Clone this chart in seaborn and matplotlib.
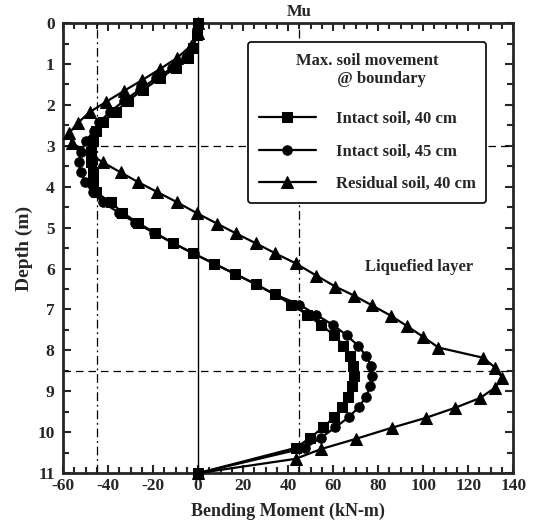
import numpy as np
import pandas as pd
import seaborn as sns
import matplotlib
matplotlib.use("Agg")
import matplotlib.pyplot as plt
from matplotlib.ticker import MultipleLocator


# =========================
# data
# =========================

depth_intact = [0, 0.29, 0.6, 0.85, 1.1, 1.34, 1.63, 1.9, 2.17, 2.42, 2.64, 2.88,
                3.15, 3.4, 3.64, 3.89, 4.13, 4.38, 4.63, 4.88, 5.13, 5.38, 5.63,
                5.88, 6.13, 6.38, 6.63, 6.88, 7.13, 7.38, 7.63, 7.88, 8.13, 8.38,
                8.63, 8.88, 9.13, 9.38, 9.63, 9.88, 10.13, 10.38, 11]

moment_intact_40 = [0, -0.4, -2.2, -4.4, -10, -16.8, -24.3, -31.3, -36.6, -42.4,
                    -45.5, -46.8, -47.7, -47.7, -46.8, -46.8, -45.5, -38.9, -33.6,
                    -26.9, -19.0, -11, -2.2, 7.3, 16.3, 25.6, 34, 41.5, 48.6, 54.7,
                    60.5, 64.5, 67.5, 69, 69.5, 68.2, 66.7, 64.0, 60.5, 55.6, 49.9,
                    43.5, 0]

moment_intact_45 = [0, -0.5, -2.5, -5.5, -11.5, -18.5, -26, -33, -39, -44,
                    -46.4, -49.7, -52, -53, -52, -50.3, -46.8, -42.4, -35.3,
                    -27.8, -19.5, -11, -2, 7, 16.5, 25.6, 34, 45, 52.5, 60,
                    66, 71, 74.6, 77, 77.5, 76.6, 74.6, 71.5, 67, 61, 54.7,
                    47.7, 0]

depth_residual = [0, 0.25, 0.55, 0.85, 1.12, 1.39, 1.66, 1.93, 2.17, 2.44, 2.69,
                  2.93, 3.4, 3.65, 3.89, 4.13, 4.38, 4.65, 4.9, 5.14, 5.38, 5.63,
                  5.87, 6.17, 6.44, 6.66, 6.9, 7.15, 7.4, 7.66, 7.93, 8.18, 8.42,
                  8.67, 8.91, 9.16, 9.4, 9.65, 9.89, 10.16, 10.41, 10.65, 11]

moment_residual_40 = [0, 0, -3, -9.3, -16.8, -24.7, -33, -41, -48, -53.4, -57.3,
                      -56, -42.4, -34.4, -26.5, -18.1, -9.3, -0.4, 8.4, 16.8, 25.6,
                      34.4, 43.3, 52.5, 61, 69.3, 77.3, 85.6, 92.7, 99.8, 106.8,
                      126.7, 132, 135.1, 132, 125.4, 114.3, 101.1, 86.1, 70.2,
                      54.7, 43.3, 0]

labels = ["Intact soil, 40 cm", "Intact soil, 45 cm", "Residual soil, 40 cm"]
markers = ["s", "o", "^"]
marker_sizes = [7.3, 6.8, 8.2]

mu = 45            # ultimate moment
layer_depths = [3, 8.5]


# =========================
# style
# =========================

sns.set_style("ticks")
plt.rcParams['font.family'] = ['Liberation Serif', 'DejaVu Serif']
plt.rcParams['font.weight'] = 'bold'
plt.rcParams['font.size'] = 12
plt.rcParams['axes.labelweight'] = 'bold'
plt.rcParams['axes.unicode_minus'] = False

fig = plt.figure(figsize=(5.34, 5.24), dpi=100)
ax = fig.add_axes([0.118, 0.097, 0.843, 0.859])

series = [
    (depth_intact, moment_intact_40),
    (depth_intact, moment_intact_45),
    (depth_residual, moment_residual_40),
]

# reference lines
ax.axvline(0, color="black", lw=1.0, zorder=1)
for v in (-mu, mu):
    ax.axvline(v, color="black", lw=0.9, ls=(0, (7, 3, 1.5, 3)), zorder=1)
for d in layer_depths:
    ax.axhline(d, color="black", lw=0.9, ls=(0, (6, 4)), zorder=1)

for (dep, mom), lab, mk, ms in zip(series, labels, markers, marker_sizes):
    df = pd.DataFrame({"moment": mom, "depth": dep})
    sns.lineplot(data=df, x="moment", y="depth", sort=False, estimator=None,
                 color="black", lw=1.6, marker=mk, markersize=ms,
                 markeredgecolor="black", markerfacecolor="black",
                 label=lab, ax=ax, zorder=3, clip_on=False)

ax.set_xlim(-60, 140)
ax.set_ylim(11, 0)
ax.xaxis.set_major_locator(MultipleLocator(20))
ax.xaxis.set_minor_locator(MultipleLocator(5))
ax.yaxis.set_major_locator(MultipleLocator(1))
ax.yaxis.set_minor_locator(MultipleLocator(0.5))
ax.tick_params(which="both", direction="in", top=True, right=True,
               width=1.5, labelsize=12.5)
ax.tick_params(which="major", length=6)
ax.tick_params(which="minor", length=4)
ax.tick_params(axis="y", pad=6)
for lab in ax.get_xticklabels() + ax.get_yticklabels():
    lab.set_fontweight("bold")
for sp in ax.spines.values():
    sp.set_linewidth(2)

ax.set_xlabel("Bending Moment (kN-m)", fontsize=13, fontweight="bold", labelpad=6)
ax.set_ylabel("Depth (m)", fontsize=14, fontweight="bold", labelpad=3)

ax.text(mu, -0.07, "Mu", ha="center", va="bottom", fontsize=12, fontweight="bold",
        transform=ax.transData, clip_on=False)
ax.text(98, 5.95, "Liquefied layer", ha="center", va="center",
        fontsize=12, fontweight="bold")

leg = ax.legend(title="Max. soil movement\n          @ boundary", loc="upper left",
                bbox_to_anchor=(0.411, 0.958), frameon=True, fancybox=True,
                edgecolor="black", framealpha=1, handlelength=3.4,
                labelspacing=1.0, borderpad=0.65, handletextpad=1.2,
                borderaxespad=0, prop={"weight": "bold", "size": 12})
leg.get_frame().set_linewidth(1.2)
leg.get_title().set_fontweight("bold")
leg.get_title().set_fontsize(12)
leg._legend_box.sep = 17

fig.savefig("out.png", dpi=100)
